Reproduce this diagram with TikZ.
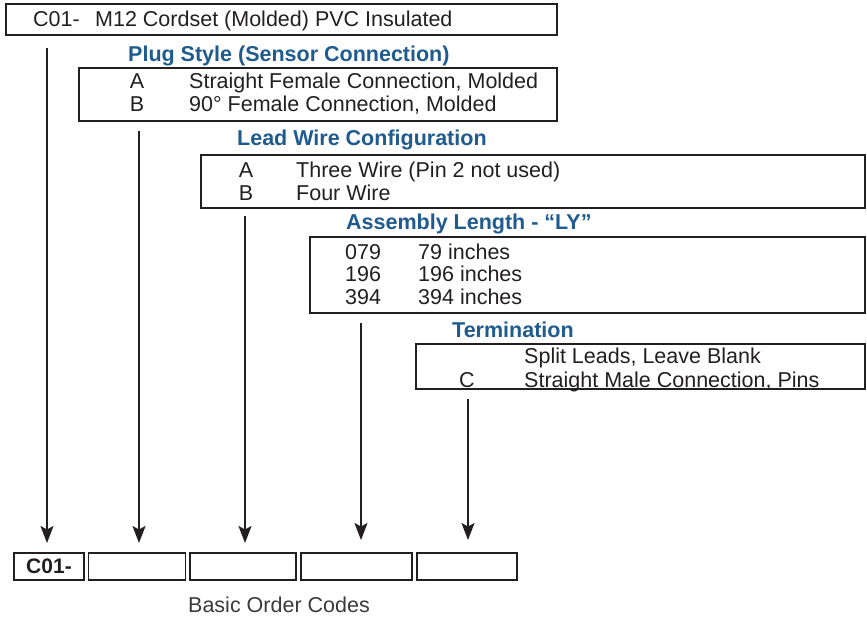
\documentclass[tikz,border=0pt]{standalone}
\usepackage{fontspec}
\setmainfont{Liberation Sans}
\usetikzlibrary{arrows.meta}
\definecolor{ttlblue}{HTML}{1F5B8E}
\definecolor{linek}{HTML}{231F20}
\definecolor{capgray}{HTML}{3A3A3A}
\begin{document}
\begin{tikzpicture}[x=1pt,y=-1pt,
  box/.style={draw=linek,line width=1.6pt,anchor=north west,inner sep=0pt,outer sep=0pt},
  txt/.style={font=\fontsize{21.5}{24}\selectfont,text=linek,inner sep=0pt,anchor=base west},
  ctxt/.style={txt,anchor=base},
  ttl/.style={font=\fontsize{21.5}{24}\selectfont\bfseries,text=ttlblue,inner sep=0pt,anchor=base west},
  arr/.style={draw=linek,line width=1.5pt,-{Stealth[length=17pt,width=13pt,inset=3.5pt]}}]
\useasboundingbox (0,0) rectangle (867,624);
% boxes
\node[box,minimum width=551pt,minimum height=31pt] (top) at (6,4) {};
\node[box,minimum width=478pt,minimum height=53pt] (plug) at (79,68) {};
\node[box,minimum width=664pt,minimum height=53pt] (lead) at (201,155) {};
\node[box,minimum width=555pt,minimum height=76pt] (asm) at (310,237) {};
\node[box,minimum width=449pt,minimum height=45pt] (term) at (416,344) {};
% top text
\node[txt] (c01t) at (33,26.5) {C01-};
\node[txt] (m12) at (95,26.5) {M12 Cordset (Molded) PVC Insulated};
% plug
\node[ttl] (plugt) at (128,61.5) {Plug Style (Sensor Connection)};
\node[ctxt] (pa) at (137,88.5) {A};
\node[txt] (pad) at (189,88.5) {Straight Female Connection, Molded};
\node[ctxt] (pb) at (137,111.5) {B};
\node[txt] (pbd) at (189,111.5) {90° Female Connection, Molded};
% lead
\node[ttl] (leadt) at (237,145.5) {Lead Wire Configuration};
\node[ctxt] (la) at (246,177.5) {A};
\node[txt] (lad) at (296,177.5) {Three Wire (Pin 2 not used)};
\node[ctxt] (lb) at (246,200.5) {B};
\node[txt] (lbd) at (296,200.5) {Four Wire};
% assembly
\node[ttl] (asmt) at (346,229.5) {Assembly Length - “LY”};
\node[txt] (n1) at (345,259.5) {079};
\node[txt] (n1d) at (418,259.5) {79 inches};
\node[txt] (n2) at (345,281.5) {196};
\node[txt] (n2d) at (418,281.5) {196 inches};
\node[txt] (n3) at (345,304.5) {394};
\node[txt] (n3d) at (418,304.5) {394 inches};
% termination
\node[ttl] (termt) at (452,337.5) {Termination};
\node[txt] (t1d) at (524,363.5) {Split Leads, Leave Blank};
\node[ctxt] (tc) at (467,387.5) {C};
\node[txt] (t2d) at (524,387.5) {Straight Male Connection, Pins};
% bottom boxes
\node[box,minimum width=70pt,minimum height=27pt] (b1) at (14,553) {};
\node[font=\fontsize{21}{24}\selectfont\bfseries,text=linek,inner sep=0pt] (b1t) at (b1.center) {C01-};
\node[box,minimum width=97pt,minimum height=27pt] (b2) at (88.5,553) {};
\node[box,minimum width=106pt,minimum height=27pt] (b3) at (190,553) {};
\node[box,minimum width=111pt,minimum height=27pt] (b4) at (301,553) {};
\node[box,minimum width=100pt,minimum height=27pt] (b5) at (417,553) {};
\node[font=\fontsize{21.5}{24}\selectfont,text=capgray,inner sep=0pt] (cap) at (279,605) {Basic Order Codes};
% arrows
\coordinate (s1) at (47,48);  \coordinate (e1) at (47,543);
\coordinate (s2) at (139,131); \coordinate (e2) at (139,543);
\coordinate (s3) at (245,216); \coordinate (e3) at (245,543);
\coordinate (s4) at (361,323); \coordinate (e4) at (361,540);
\coordinate (s5) at (468,399); \coordinate (e5) at (468,540);
\draw[arr] (s1) -- (e1);
\draw[arr] (s2) -- (e2);
\draw[arr] (s3) -- (e3);
\draw[arr] (s4) -- (e4);
\draw[arr] (s5) -- (e5);
\end{tikzpicture}
\end{document}
